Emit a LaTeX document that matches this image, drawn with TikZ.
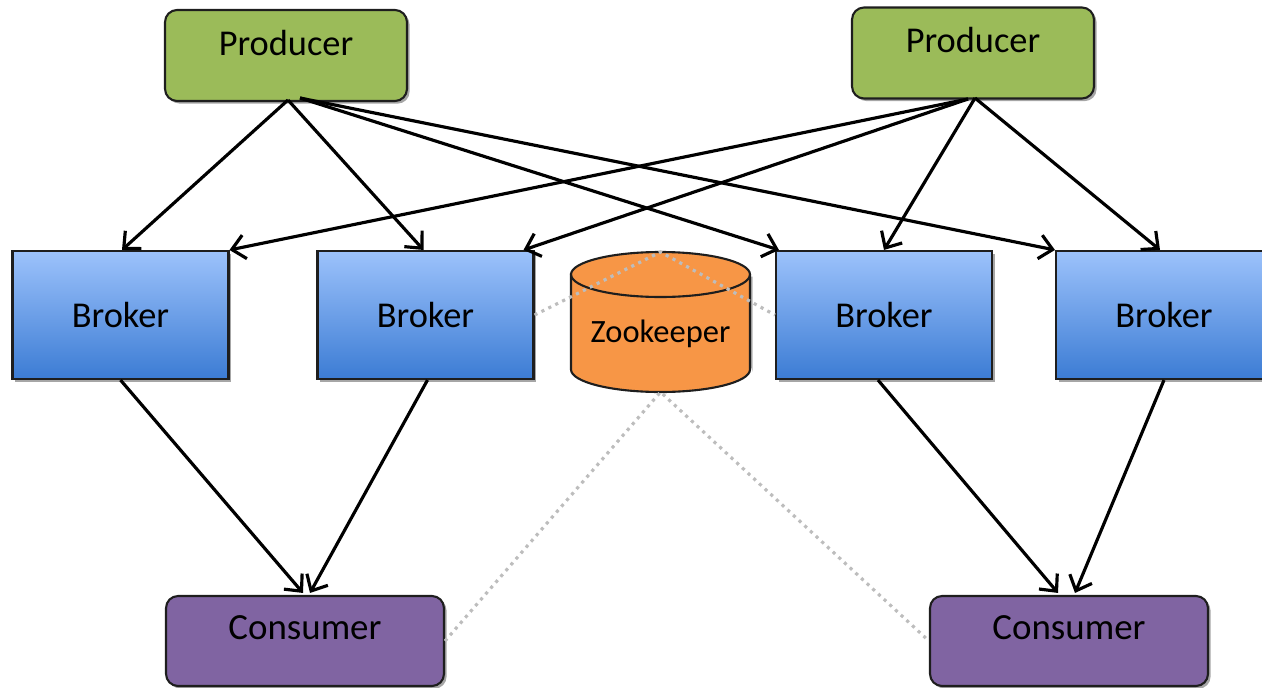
\documentclass[tikz,border=0pt]{standalone}
\usepackage{fontspec}
\setmainfont{Carlito}
\usetikzlibrary{arrows.meta,shadows,calc}
\definecolor{prodgreen}{HTML}{9BBB59}
\definecolor{conspurple}{HTML}{8064A2}
\definecolor{zkorange}{HTML}{F79646}
\definecolor{brokertop}{HTML}{9CC2FB}
\definecolor{brokerbot}{HTML}{3C7CD4}
\definecolor{edgedark}{HTML}{1E1E1E}
\definecolor{dotgray}{HTML}{BDBDBD}
\tikzset{
  boxshadow/.style={drop shadow={shadow xshift=1.5pt,shadow yshift=-1.5pt,opacity=0.35,fill=black}},
  boxtext/.style={font=\fontsize{20.7}{24}\selectfont},
  constext/.style={font=\fontsize{21}{24}\selectfont},
  prodbox/.style={draw=edgedark,line width=1.2pt,fill=prodgreen,rounded corners=0.24cm,
    minimum width=4.84cm,minimum height=1.82cm,boxshadow},
  consbox/.style={draw=edgedark,line width=1.2pt,fill=conspurple,rounded corners=0.24cm,
    minimum width=5.56cm,minimum height=1.8cm,boxshadow},
  brokerbox/.style={draw=edgedark,line width=1.2pt,top color=brokertop,bottom color=brokerbot,
    minimum width=4.32cm,minimum height=2.56cm,boxshadow,boxtext},
  flow/.style={line width=1.8pt,draw=black,-{Straight Barb[length=2.6mm,width=4.8mm,line width=1.8pt]}},
  zkline/.style={draw=dotgray,line width=1.8pt,dash pattern=on 1.8pt off 2.6pt},
}
\begin{document}
\begin{tikzpicture}[x=0.02cm,y=-0.02cm]
\useasboundingbox (0,0) rectangle (1262,687);
\clip (0,0) rectangle (1262,687);
% producers
\node[prodbox,label={[boxtext,yshift=0.25cm]center:Producer}] (P1) at (286,55.5) {};
\node[prodbox,label={[boxtext,yshift=0.25cm]center:Producer}] (P2) at (973,53) {};
% brokers
\node[brokerbox] (B1) at (120.5,315) {Broker};
\node[brokerbox] (B2) at (425.5,315) {Broker};
\node[brokerbox] (B3) at (884,315) {Broker};
\node[brokerbox] (B4) at (1164,315) {Broker};
% consumers
\node[consbox,label={[constext,yshift=0.26cm]center:Consumer}] (C1) at (305,641) {};
\node[consbox,label={[constext,yshift=0.26cm]center:Consumer}] (C2) at (1069,641) {};
% zookeeper cylinder
\fill[black,opacity=0.3] (573.5,276.5) -- (752.5,276.5) -- (752.5,371.5) arc[start angle=0,end angle=180,x radius=89.5,y radius=-22.5] -- cycle;
\draw[edgedark,line width=1.2pt,fill=zkorange] (571,274.5) -- (571,369.5) arc[start angle=180,end angle=360,x radius=89.5,y radius=-22.5] -- (750,274.5) arc[start angle=0,end angle=180,x radius=89.5,y radius=-22.5] -- cycle;
\draw[edgedark,line width=1.2pt] (571,274.5) arc[start angle=180,end angle=360,x radius=89.5,y radius=-22.5];
\node[font=\fontsize{18.5}{22}\selectfont] (ZK) at (660.5,334) {Zookeeper};
\coordinate (zktop) at (660.5,252);
\coordinate (zkbot) at (660.5,392);
% producer outlets
\coordinate (p1a) at (288,100);
\coordinate (p1b) at (300,98);
\coordinate (p2a) at (975,98);
\coordinate (p2b) at (968,99);
% arrows from producer 1
\draw[flow] (p1a) -- ($(B1.north)+(1.5,0)$);
\draw[flow] (p1a) -- ($(B2.north)+(-2,0)$);
\draw[flow] (p1b) -- ($(B3.north west)+(4,0)$);
\draw[flow] (p1b) -- (B4.north west);
% arrows from producer 2
\draw[flow] (p2b) -- (B1.north east);
\draw[flow] (p2b) -- ($(B2.north east)+(-11,0)$);
\draw[flow] (p2a) -- (B3.north);
\draw[flow] (p2a) -- ($(B4.north)+(-4,0)$);
% brokers to consumers
\draw[flow] (B1.south) -- ($(C1.north)+(-2,-2)$);
\draw[flow] ($(B2.south)+(2,0)$) -- ($(C1.north)+(5,-2)$);
\draw[flow] ($(B3.south)+(-6,0)$) -- ($(C2.north)+(-11,-2)$);
\draw[flow] (B4.south) -- ($(C2.north)+(6,-2)$);
% zookeeper links
\draw[zkline] (B2.east) -- (zktop) -- (B3.west);
\draw[zkline] (C1.east) -- (zkbot) -- (C2.west);
\end{tikzpicture}
\end{document}
